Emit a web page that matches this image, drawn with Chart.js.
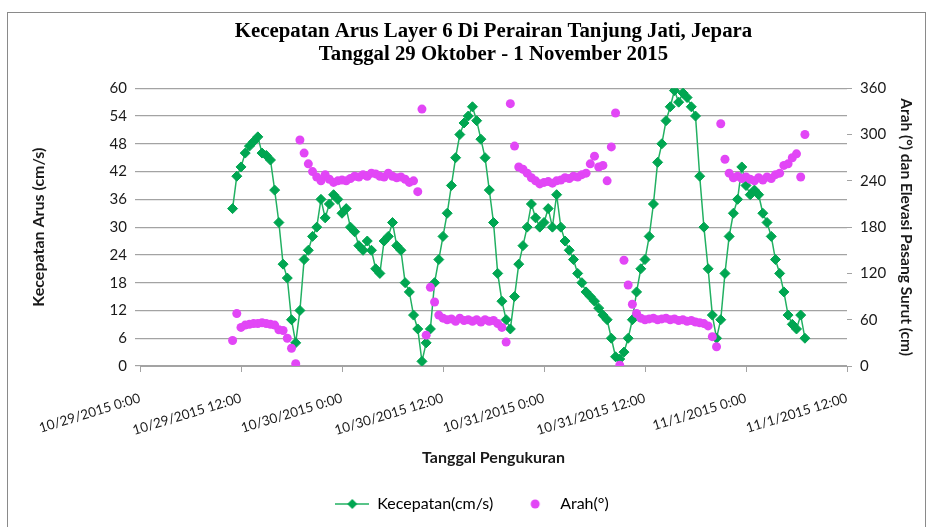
<!DOCTYPE html>
<html>
<head>
<meta charset="utf-8">
<script src="https://cdn.jsdelivr.net/npm/chart.js@4.4.1/dist/chart.umd.min.js"></script>
<style>
  html, body { margin: 0; padding: 0; background: #fff; }
  #wrap { position: relative; width: 934px; height: 527px; }
</style>
</head>
<body>
<div id="wrap"><canvas id="arusChart" width="934" height="527"></canvas></div>
<script>
// first record 10/29/2015 11:00, one record every 30 minutes (hours since 10/29 0:00)
const startHour = 11;
const stepHour = 0.5;

// Kecepatan (cm/s), rows of 6 hours
const speed = [
    34, 41, 43, 46, 47.5, 48.5, 49.5, 46, 45.5, 44.5, 38, 31,
    22, 19, 10, 5, 12, 23, 25, 28, 30, 36, 32, 35,
    37, 36, 33, 34, 30, 29, 26, 25, 27, 25, 21, 20,
    27, 28, 31, 26, 25, 18, 16, 11, 8, 1, 5, 8,
    18, 23, 28, 33, 39, 45, 50, 52.5, 54, 56, 53, 49,
    45, 38, 31, 20, 14, 10, 8, 15, 22, 26, 30, 35,
    32, 30, 31, 34, 30, 37, 30, 27, 25, 23, 20, 18,
    16, 15, 14, 12.5, 11, 10, 6, 2, 1.5, 3, 6, 10,
    16, 21, 23, 28, 35, 44, 48, 53, 56, 59.5, 57, 59,
    58, 56, 54, 41, 30, 21, 11, 6, 10, 20, 28, 33,
    36, 43, 39, 37, 38, 37, 33, 31, 28, 23, 20, 16,
    11, 9, 8, 11, 6
];

// Arah (derajat)
const direction = [
    33, 68, 50, 53, 54, 55, 55, 56, 55, 54, 53, 47,
    46, 36, 23, 3, 293, 276, 262, 252, 245, 240, 248, 242,
    238, 240, 241, 240, 243, 246, 245, 248, 246, 250, 249, 246,
    245, 250, 246, 244, 245, 242, 238, 240, 226, 333, 40, 102,
    83, 66, 62, 60, 61, 58, 62, 59, 60, 58, 60, 57,
    60, 58, 59, 55, 50, 31, 340, 285, 258, 255, 250, 244,
    240, 236, 238, 239, 237, 240, 241, 244, 243, 246, 245, 248,
    250, 262, 272, 258, 260, 240, 284, 328, 1, 137, 105, 80,
    68, 62, 60, 61, 62, 60, 61, 62, 60, 61, 59, 60,
    58, 59, 57, 56, 55, 52, 38, 25, 314, 268, 250, 244,
    246, 243, 245, 242, 240, 244, 241, 245, 243, 248, 250, 260,
    262, 270, 275, 245, 300
];

const tickLabels = [
    '10/29/2015 0:00', '10/29/2015 12:00', '10/30/2015 0:00', '10/30/2015 12:00',
    '10/31/2015 0:00', '10/31/2015 12:00', '11/1/2015 0:00', '11/1/2015 12:00'
];

const green = '#00A651';
const greenLine = '#22B062';
const magenta = '#E246F6';
const gridGray = '#A3A3A3';
const textColor = '#1a1a1a';

const speedPoints = speed.map((v, i) => ({ x: startHour + i * stepHour, y: v }));
const directionPoints = direction.map((v, i) => ({ x: startHour + i * stepHour, y: v }));

// legend symbols: line with diamond, and a lone circle
function makeSymbol(withLine) {
    const c = document.createElement('canvas');
    c.width = 34;
    c.height = 12;
    const g = c.getContext('2d');
    if (withLine) {
        g.strokeStyle = greenLine;
        g.lineWidth = 1.5;
        g.beginPath();
        g.moveTo(0, 6);
        g.lineTo(34, 6);
        g.stroke();
        g.fillStyle = green;
        g.beginPath();
        g.moveTo(17, 1); g.lineTo(22, 6); g.lineTo(17, 11); g.lineTo(12, 6);
        g.closePath();
        g.fill();
    } else {
        g.fillStyle = magenta;
        g.beginPath();
        g.arc(17, 6, 4.5, 0, Math.PI * 2);
        g.fill();
    }
    return c;
}
const speedSymbol = makeSymbol(true);
const dirSymbol = makeSymbol(false);

const frame = {
    id: 'frame',
    beforeDraw(chart) {
        const ctx = chart.ctx;
        ctx.save();
        ctx.fillStyle = '#fff';
        ctx.fillRect(0, 0, chart.width, chart.height);
        ctx.strokeStyle = '#8a8a8a';
        ctx.lineWidth = 1;
        ctx.strokeRect(7.5, 12.5, 918, 530);
        ctx.restore();
    }
};

const ctx = document.getElementById('arusChart').getContext('2d');
new Chart(ctx, {
    type: 'line',
    data: {
        datasets: [{
            label: 'Kecepatan(cm/s)',
            data: speedPoints,
            yAxisID: 'y',
            borderColor: greenLine,
            borderWidth: 1.5,
            backgroundColor: green,
            pointStyle: 'rectRot',
            pointRadius: 5,
            pointBorderWidth: 1,
            pointBorderColor: green,
            pointBackgroundColor: green,
            tension: 0,
            order: 2
        }, {
            label: 'Arah(°)',
            data: directionPoints,
            yAxisID: 'y2',
            showLine: false,
            pointStyle: 'circle',
            pointRadius: 4.5,
            pointBorderWidth: 0,
            pointBackgroundColor: magenta,
            borderColor: magenta,
            backgroundColor: magenta,
            order: 1
        }]
    },
    options: {
        responsive: false,
        animation: false,
        layout: { padding: { left: 26, right: 16, top: 0, bottom: 5 } },
        plugins: {
            tooltip: { enabled: false },
            title: {
                display: true,
                fullSize: false,
                text: ['Kecepatan Arus Layer 6 Di Perairan Tanjung Jati, Jepara',
                       'Tanggal 29 Oktober - 1 November 2015'],
                font: { family: 'Liberation Serif', size: 20.8, weight: 'bold', lineHeight: 1.1 },
                color: '#000',
                padding: { top: 20.5, bottom: 22 }
            },
            legend: {
                position: 'bottom',
                labels: {
                    usePointStyle: true,
                    pointStyleWidth: 34,
                    padding: 25,
                    color: textColor,
                    font: { family: 'Lato', size: 16 },
                    generateLabels: () => [
                        { text: 'Kecepatan(cm/s)', pointStyle: speedSymbol, fillStyle: green,
                          strokeStyle: green, lineWidth: 0, hidden: false, datasetIndex: 0 },
                        { text: 'Arah(°)', pointStyle: dirSymbol, fillStyle: magenta,
                          strokeStyle: magenta, lineWidth: 0, hidden: false, datasetIndex: 1 }
                    ]
                }
            }
        },
        scales: {
            x: {
                type: 'linear',
                min: 0,
                max: 84,
                afterFit: (scale) => { scale.height = 105; },
                ticks: {
                    stepSize: 12,
                    autoSkip: false,
                    minRotation: 17,
                    maxRotation: 17,
                    padding: 18,
                    color: textColor,
                    font: { family: 'Lato', size: 13.5 },
                    callback: (v) => tickLabels[Math.round(v / 12)]
                },
                grid: { drawOnChartArea: false, drawTicks: true, tickLength: 6, color: gridGray },
                border: { display: true, color: gridGray },
                title: {
                    display: true,
                    text: 'Tanggal Pengukuran',
                    color: textColor,
                    font: { family: 'Lato', size: 16, weight: 'bold' },
                    padding: { top: 4, bottom: 4 }
                }
            },
            y: {
                position: 'left',
                min: 0,
                max: 60,
                afterFit: (scale) => { scale.width = 114; },
                ticks: { stepSize: 6, padding: 8, color: textColor, font: { family: 'Lato', size: 15 } },
                grid: { color: gridGray, lineWidth: 1.2, tickLength: 5 },
                border: { display: false },
                title: {
                    display: true,
                    text: 'Kecepatan Arus (cm/s)',
                    color: textColor,
                    font: { family: 'Lato', size: 16, weight: 'bold' },
                    padding: { top: 3, bottom: 3 }
                }
            },
            y2: {
                position: 'right',
                min: 0,
                max: 360,
                afterFit: (scale) => { scale.width = 71; },
                ticks: { stepSize: 60, padding: 8, color: textColor, font: { family: 'Lato', size: 15 } },
                grid: { drawOnChartArea: false, color: gridGray, tickLength: 5 },
                border: { display: false },
                title: {
                    display: true,
                    text: 'Arah (°) dan Elevasi Pasang Surut (cm)',
                    color: textColor,
                    font: { family: 'Lato', size: 15.5, weight: 'bold' },
                    padding: { top: 3, bottom: 3 }
                }
            }
        }
    },
    plugins: [frame]
});
</script>
</body>
</html>
